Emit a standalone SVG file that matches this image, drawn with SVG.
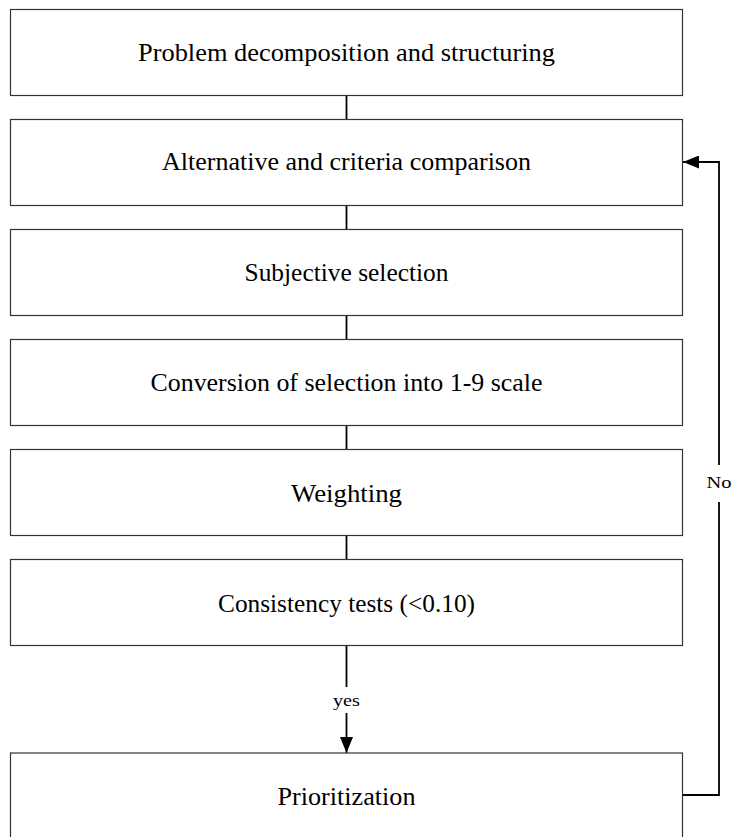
<svg xmlns="http://www.w3.org/2000/svg" width="732" height="837" viewBox="0 0 732 837">
<style>
.box{fill:#fff;stroke:#333;stroke-width:1.2}
.lbl{font-family:"Liberation Serif","Times New Roman",serif;font-size:25px;fill:#000;text-anchor:middle}
.sm{font-family:"Liberation Serif","Times New Roman",serif;font-size:17px;fill:#000;text-anchor:middle}
.ln{fill:none;stroke:#000;stroke-width:1.8}
</style>
<defs>
<marker id="ah" markerWidth="16" markerHeight="13" refX="16" refY="6.5" orient="auto" markerUnits="userSpaceOnUse">
<path d="M0,0 L16,6.5 L0,13 Z" fill="#000"/>
</marker>
</defs>
<rect width="732" height="837" fill="#fff"/>
<g id="connectors">
<line class="ln" x1="346.5" y1="95.5" x2="346.5" y2="119.5"/>
<line class="ln" x1="346.5" y1="205.5" x2="346.5" y2="229.5"/>
<line class="ln" x1="346.5" y1="315.5" x2="346.5" y2="339.5"/>
<line class="ln" x1="346.5" y1="425.5" x2="346.5" y2="449.5"/>
<line class="ln" x1="346.5" y1="535.5" x2="346.5" y2="559.5"/>
<line class="ln" x1="346.5" y1="645.5" x2="346.5" y2="687"/>
<line class="ln" x1="346.5" y1="713" x2="346.5" y2="753" marker-end="url(#ah)"/>
<text class="sm" x="346.5" y="706" textLength="27" lengthAdjust="spacingAndGlyphs">yes</text>
<path class="ln" d="M682.5,795 H719 V502"/>
<path class="ln" d="M719,465 V162 H683" marker-end="url(#ah)"/>
<text class="sm" x="719" y="488" textLength="25" lengthAdjust="spacingAndGlyphs">No</text>
</g>
<g id="n1"><rect class="box" x="10.5" y="9.5" width="672" height="86"/><text class="lbl" x="346.5" y="60.5" textLength="417" lengthAdjust="spacingAndGlyphs">Problem decomposition and structuring</text></g>
<g id="n2"><rect class="box" x="10.5" y="119.5" width="672" height="86"/><text class="lbl" x="346.5" y="170" textLength="369" lengthAdjust="spacingAndGlyphs">Alternative and criteria comparison</text></g>
<g id="n3"><rect class="box" x="10.5" y="229.5" width="672" height="86"/><text class="lbl" x="346.5" y="281" textLength="204" lengthAdjust="spacingAndGlyphs">Subjective selection</text></g>
<g id="n4"><rect class="box" x="10.5" y="339.5" width="672" height="86"/><text class="lbl" x="346.5" y="391" textLength="392" lengthAdjust="spacingAndGlyphs">Conversion of selection into 1-9 scale</text></g>
<g id="n5"><rect class="box" x="10.5" y="449.5" width="672" height="86"/><text class="lbl" x="346.5" y="501.5" textLength="111" lengthAdjust="spacingAndGlyphs">Weighting</text></g>
<g id="n6"><rect class="box" x="10.5" y="559.5" width="672" height="86"/><text class="lbl" x="346.5" y="612" textLength="257" lengthAdjust="spacingAndGlyphs">Consistency tests (&lt;0.10)</text></g>
<g id="n7"><rect class="box" x="10.5" y="753" width="672" height="86"/><text class="lbl" x="346.5" y="805" textLength="138" lengthAdjust="spacingAndGlyphs">Prioritization</text></g>
</svg>
